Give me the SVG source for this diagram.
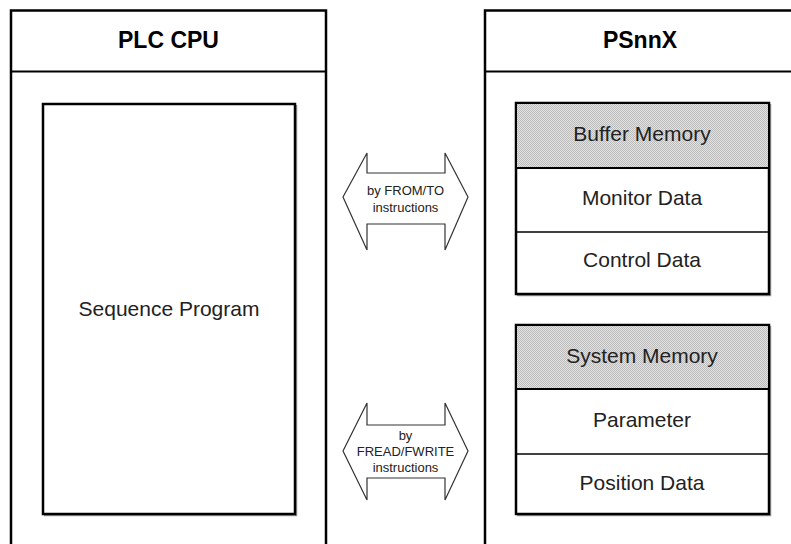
<svg xmlns="http://www.w3.org/2000/svg" width="791" height="544" viewBox="0 0 791 544">
  <defs>
    <!-- fine dither used for the memory header bands -->
    <pattern id="dither" width="2" height="2" patternUnits="userSpaceOnUse">
      <rect width="2" height="2" fill="#e2e2e2"/>
      <rect width="1" height="1" fill="#bcbcbc"/>
      <rect x="1" y="1" width="1" height="1" fill="#bcbcbc"/>
    </pattern>
  </defs>
  <style>
    .frame { fill: #fff; stroke: #000; stroke-width: 2.5; }
    .box { fill: #fff; stroke: #000; stroke-width: 2.5; }
    .shadow { fill: none; stroke: #9a9a9a; stroke-width: 1.5; }
    .band { fill: url(#dither); }
    .div { stroke: #000; stroke-width: 1.3; }
    .divb { stroke: #000; stroke-width: 2; }
    .title { font-family: "Liberation Sans", Arial, sans-serif; font-weight: bold; font-size: 23px; text-anchor: middle; fill: #000; }
    .lbl { font-family: "Liberation Sans", Arial, sans-serif; font-size: 21px; text-anchor: middle; fill: #222; }
    .small { font-family: "Liberation Sans", Arial, sans-serif; font-size: 13px; text-anchor: middle; fill: #222; }
    .arrow { fill: #fff; stroke: #333; stroke-width: 1.2; stroke-linejoin: miter; }
  </style>

  <rect width="791" height="544" fill="#fff"/>

  <!-- PLC CPU module -->
  <g id="plc-cpu">
    <rect class="frame" x="11" y="10.5" width="315" height="545"/>
    <line class="divb" x1="11" y1="71.5" x2="326" y2="71.5"/>
    <text class="title" x="168.5" y="48">PLC CPU</text>
  </g>

  <g id="sequence-program">
    <polyline class="shadow" points="44,515.5 296.5,515.5 296.5,105"/>
    <rect class="box" x="43" y="104" width="252" height="410"/>
    <text class="lbl" x="169" y="316">Sequence Program</text>
  </g>

  <!-- PSnnX module -->
  <g id="psnnx">
    <rect class="frame" x="485" y="10.5" width="320" height="545"/>
    <line class="divb" x1="485" y1="71.5" x2="805" y2="71.5"/>
    <text class="title" x="640" y="48">PSnnX</text>
  </g>

  <g id="buffer-memory">
    <polyline class="shadow" points="517,295.5 770.5,295.5 770.5,104"/>
    <rect class="box" x="516" y="103" width="253" height="191"/>
    <rect class="band" x="517.2" y="104.2" width="250.6" height="63.8"/>
    <line class="divb" x1="516" y1="168" x2="769" y2="168"/>
    <text class="lbl" x="642" y="141">Buffer Memory</text>
  </g>
  <g id="monitor-data">
    <line class="div" x1="516" y1="232" x2="769" y2="232"/>
    <text class="lbl" x="642" y="205">Monitor Data</text>
  </g>
  <g id="control-data">
    <text class="lbl" x="642" y="267">Control Data</text>
  </g>

  <g id="system-memory">
    <polyline class="shadow" points="517,515.5 770.5,515.5 770.5,326"/>
    <rect class="box" x="516" y="325" width="253" height="189"/>
    <rect class="band" x="517.2" y="326.2" width="250.6" height="62.8"/>
    <line class="divb" x1="516" y1="389" x2="769" y2="389"/>
    <text class="lbl" x="642" y="363">System Memory</text>
  </g>
  <g id="parameter">
    <line class="div" x1="516" y1="454" x2="769" y2="454"/>
    <text class="lbl" x="642" y="427">Parameter</text>
  </g>
  <g id="position-data">
    <text class="lbl" x="642" y="490">Position Data</text>
  </g>

  <!-- data-transfer arrows between the CPU and the module -->
  <g id="connectors">
    <g id="from-to">
      <polygon class="arrow" points="343,197 367,153 367,173 445,173 445,153 468,197 445,250 445,224 367,224 367,250"/>
      <text class="small" x="405.5" y="195">by FROM/TO</text>
      <text class="small" x="405.5" y="212">instructions</text>
    </g>
    <g id="fread-fwrite">
      <polygon class="arrow" points="343,451 367,403 367,425 445,425 445,403 468,451 445,500 445,478 367,478 367,500"/>
      <text class="small" x="405.5" y="440">by</text>
      <text class="small" x="405.5" y="456">FREAD/FWRITE</text>
      <text class="small" x="405.5" y="472">instructions</text>
    </g>
  </g>
</svg>
